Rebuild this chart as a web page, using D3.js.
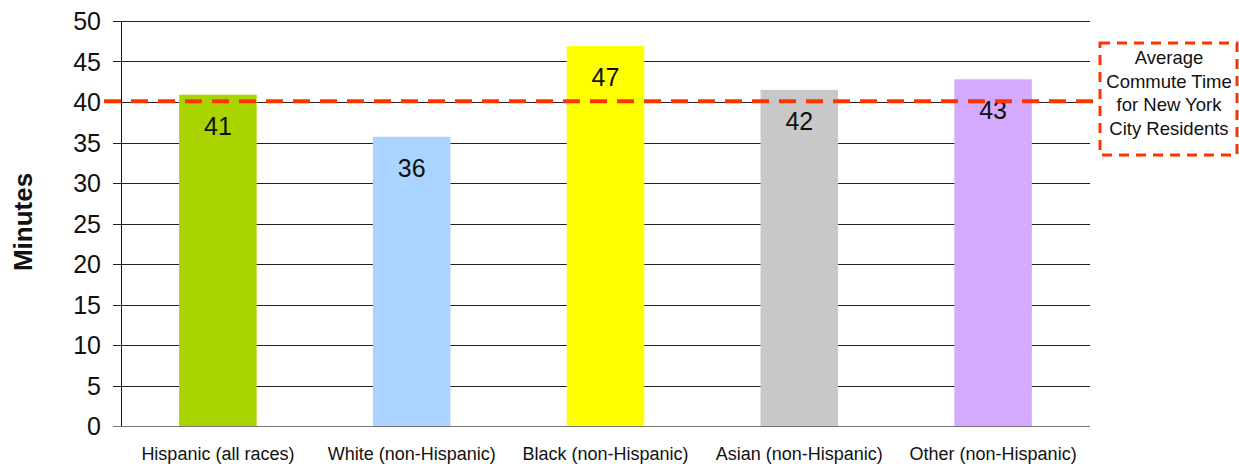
<!DOCTYPE html>
<html>
<head>
<meta charset="utf-8">
<script src="https://cdn.jsdelivr.net/npm/d3@7"></script>
<style>
  body { margin: 0; background: #fff; }
  text { font-family: "Liberation Sans", Arial, sans-serif; }
</style>
</head>
<body>
<script>
const categories = ["Hispanic (all races)", "White (non-Hispanic)", "Black (non-Hispanic)", "Asian (non-Hispanic)", "Other (non-Hispanic)"];
const minutes = [40.9, 35.7, 46.9, 41.5, 42.8];
const valueLabels = ["41", "36", "47", "42", "43"];
const barColors = ["#aad400", "#aad4ff", "#ffff00", "#c8c8c8", "#d4aaff"];
const yTicks = [0, 5, 10, 15, 20, 25, 30, 35, 40, 45, 50];
const cityAverage = 40.1;
const averageLabel = ["Average", "Commute Time", "for New York", "City Residents"];

const w = 1239, h = 464;
const plotLeft = 121, plotRight = 1090, plotTop = 21, plotBottom = 426;

const svg = d3.select("body").append("svg")
  .attr("width", w)
  .attr("height", h);

const xScale = d3.scaleBand()
  .domain(categories)
  .range([plotLeft, plotRight])
  .paddingInner(0.6)
  .paddingOuter(0.3);

const yScale = d3.scaleLinear()
  .domain([0, 50])
  .range([plotBottom, plotTop]);

// gridlines
svg.append("g")
  .selectAll("line")
  .data(yTicks)
  .enter()
  .append("line")
  .attr("x1", plotLeft - 8)
  .attr("x2", plotRight)
  .attr("y1", d => Math.round(yScale(d)) + 0.5)
  .attr("y2", d => Math.round(yScale(d)) + 0.5)
  .attr("stroke", d => d === 0 ? "#777" : "#222")
  .attr("stroke-width", 1);

// y axis labels
svg.append("g")
  .selectAll("text")
  .data(yTicks)
  .enter()
  .append("text")
  .attr("x", plotLeft - 20)
  .attr("y", d => yScale(d))
  .attr("dy", "0.36em")
  .attr("text-anchor", "end")
  .attr("font-size", 25)
  .attr("fill", "#111")
  .text(d => d);

// bars
svg.selectAll("rect.bar")
  .data(minutes)
  .enter()
  .append("rect")
  .attr("class", "bar")
  .attr("x", (d, i) => xScale(categories[i]))
  .attr("y", d => yScale(d))
  .attr("width", xScale.bandwidth())
  .attr("height", d => plotBottom - yScale(d))
  .attr("fill", (d, i) => barColors[i]);

// y axis line
svg.append("line")
  .attr("x1", plotLeft + 0.5).attr("x2", plotLeft + 0.5)
  .attr("y1", plotTop).attr("y2", plotBottom)
  .attr("stroke", "#111");

// value labels
svg.selectAll("text.val")
  .data(minutes)
  .enter()
  .append("text")
  .attr("class", "val")
  .attr("x", (d, i) => xScale(categories[i]) + xScale.bandwidth() / 2)
  .attr("y", d => yScale(d) + 40)
  .attr("text-anchor", "middle")
  .attr("font-size", 25)
  .attr("fill", "#111")
  .text((d, i) => valueLabels[i]);

// category labels
svg.selectAll("text.cat")
  .data(categories)
  .enter()
  .append("text")
  .attr("class", "cat")
  .attr("x", d => xScale(d) + xScale.bandwidth() / 2)
  .attr("y", 460)
  .attr("text-anchor", "middle")
  .attr("font-size", 18)
  .attr("fill", "#111")
  .text(d => d);

// y title
svg.append("text")
  .attr("transform", "translate(32, 222) rotate(-90)")
  .attr("text-anchor", "middle")
  .attr("font-size", 26)
  .attr("font-weight", "bold")
  .attr("fill", "#111")
  .text("Minutes");

// average line + box
const avgY = yScale(cityAverage);
svg.append("line")
  .attr("x1", 104).attr("x2", 1100)
  .attr("y1", avgY).attr("y2", avgY)
  .attr("stroke", "#ff3300")
  .attr("stroke-width", 4)
  .attr("stroke-dasharray", "17,10");

svg.append("rect")
  .attr("x", 1100).attr("y", 43)
  .attr("width", 137).attr("height", 112)
  .attr("fill", "none")
  .attr("stroke", "#ff3300")
  .attr("stroke-width", 3)
  .attr("stroke-dasharray", "10,7");

svg.append("g")
  .selectAll("text")
  .data(averageLabel)
  .enter()
  .append("text")
  .attr("x", 1169)
  .attr("y", (d, i) => 64 + i * 23.6)
  .attr("text-anchor", "middle")
  .attr("font-size", 18.5)
  .attr("fill", "#111")
  .text(d => d);
</script>
</body>
</html>
